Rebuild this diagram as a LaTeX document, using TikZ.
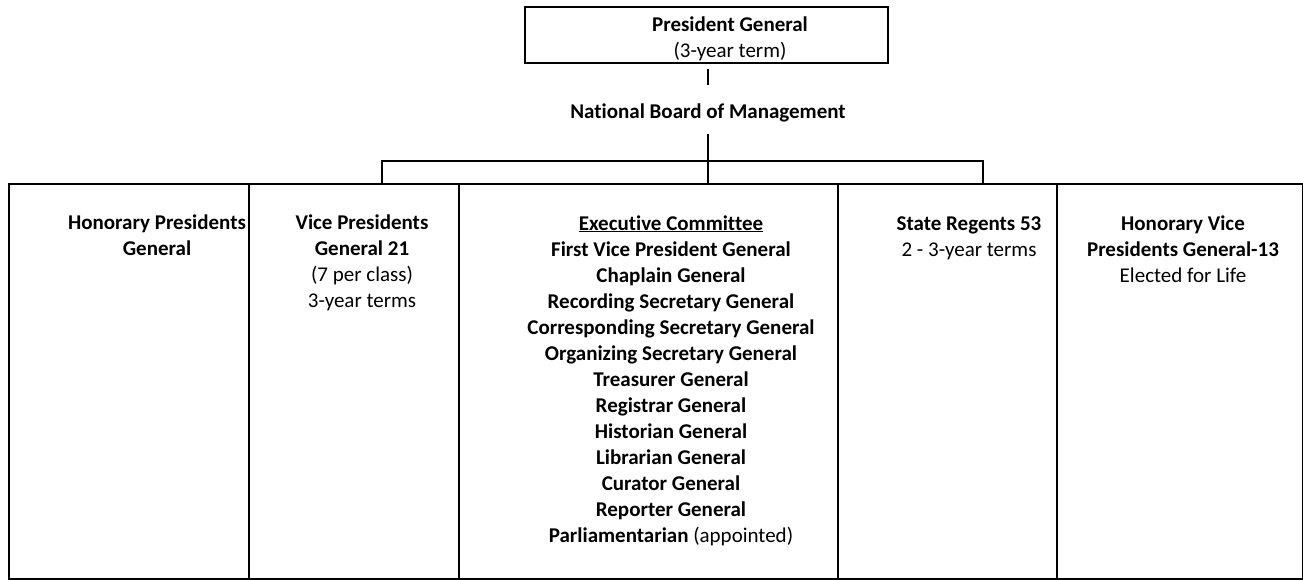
\documentclass[tikz,border=0pt]{standalone}
\usepackage{fontspec}
\setmainfont{Carlito}[Ligatures=NoCommon]
\usetikzlibrary{positioning}

\begin{document}
\begin{tikzpicture} [x=1pt, y=-1pt,
    line width=2pt,
    every node/.style={font=\fontsize{21}{26}\selectfont, align=center, inner sep=0pt},
    cell/.style={draw, minimum height=395pt, anchor=north west},
    txt/.style={anchor=base}]

\useasboundingbox (0,0) rectangle (1303,579);

\node (pg) [draw, minimum width=363pt, minimum height=56pt] at (706.5,35) {};

\node (pgtext) [txt] at (730,57) {\textbf{President General}\\(3-year term)};

\node (nbm) [txt] at (708,118) {\textbf{National Board of Management}};

% Columns
\node (c1) [cell, minimum width=240pt] at (8,183) {};

\node (c2) [cell, minimum width=210pt] at (248,183) {};

\node (c3) [cell, minimum width=379pt] at (458,183) {};

\node (c4) [cell, minimum width=219pt] at (837,183) {};

\node (c5) [cell, minimum width=246pt] at (1056,183) {};

% text base = last line
\node (hp) [txt] at (157,255) {\textbf{Honorary Presidents}\\\textbf{General}};

\node (vp) [txt] at (362,307) {\textbf{Vice Presidents}\\\textbf{General 21}\\(7 per class)\\3-year terms};

\node (ec) [txt] at (671,542) {\textbf{\underline{Executive Committee}}\\
    \textbf{First Vice President General}\\
    \textbf{Chaplain General}\\
    \textbf{Recording Secretary General}\\
    \textbf{Corresponding Secretary General}\\
    \textbf{Organizing Secretary General}\\
    \textbf{Treasurer General}\\
    \textbf{Registrar General}\\
    \textbf{Historian General}\\
    \textbf{Librarian General}\\
    \textbf{Curator General}\\
    \textbf{Reporter General}\\
    \textbf{Parliamentarian} (appointed)};

\node (sr) [txt] at (969,256) {\textbf{State Regents 53}\\2 - 3-year terms};

\node (hv) [txt] at (1183,282) {\textbf{Honorary Vice}\\\textbf{Presidents General-13}\\Elected for Life};

% Lines
\coordinate (busl) at (382,161);
\coordinate (busr) at (983,161);

\draw [shorten <=5pt, shorten >=17pt] (pg.south -| nbm) -- (nbm.north);
\draw [shorten <=11pt] (nbm.south) -- (nbm.south |- c3.north);
\draw (busl |- c2.north) -- (busl) -- (busr) -- (busr |- c4.north);
\end{tikzpicture}
\end{document}
